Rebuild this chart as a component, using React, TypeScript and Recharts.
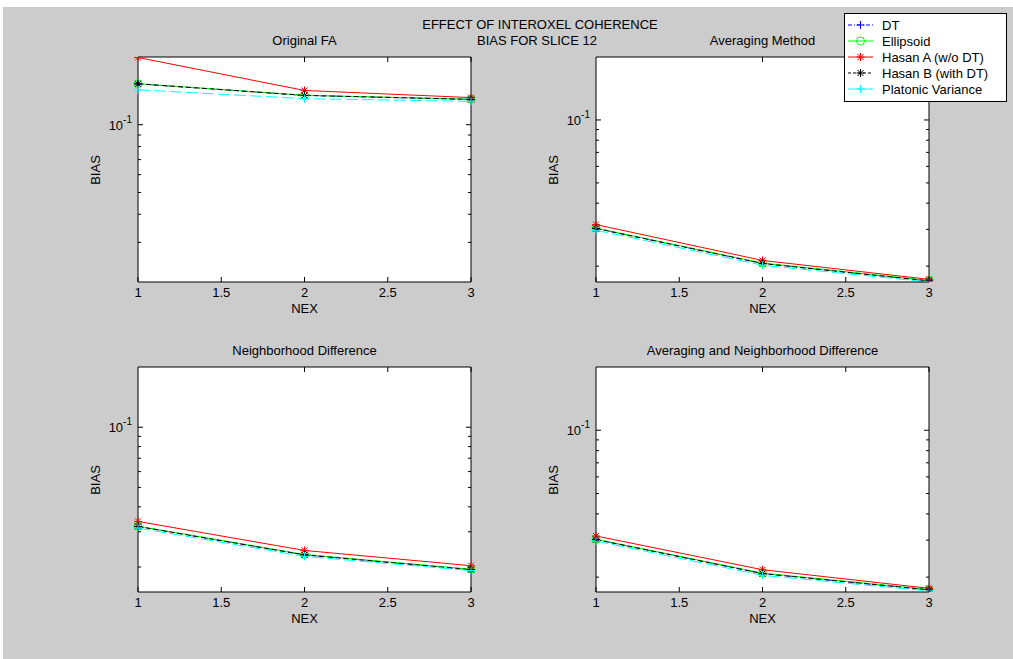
import React from 'react';
import { LineChart, Line, XAxis, YAxis, CartesianGrid } from 'recharts';

// NEX values on the x axis
const nex = [1, 2, 3];
const xTicks = [1, 1.5, 2, 2.5, 3];

// Original FA
const origDT = [0.152, 0.135, 0.1296];
const origEll = [0.1522, 0.1352, 0.1298];
const origHasanA = [0.199, 0.142, 0.132];
const origHasanB = [0.152, 0.135, 0.1296];
const origPlat = [0.143, 0.1306, 0.127];

// Averaging Method
const avgDT = [0.0303, 0.0206, 0.017];
const avgEll = [0.0304, 0.0207, 0.0171];
const avgHasanA = [0.0316, 0.0213, 0.0173];
const avgHasanB = [0.0303, 0.0206, 0.017];
const avgPlat = [0.0297, 0.0202, 0.0168];

// Neighborhood Difference
const nbDT = [0.0319, 0.023, 0.0194];
const nbEll = [0.032, 0.0231, 0.0195];
const nbHasanA = [0.0338, 0.0242, 0.0203];
const nbHasanB = [0.0319, 0.023, 0.0194];
const nbPlat = [0.0313, 0.0226, 0.0192];

// Averaging and Neighborhood Difference
const anDT = [0.0302, 0.0208, 0.0174];
const anEll = [0.0303, 0.0209, 0.0175];
const anHasanA = [0.0314, 0.0217, 0.0177];
const anHasanB = [0.0302, 0.0208, 0.0174];
const anPlat = [0.0297, 0.0204, 0.0172];

const legendNames = ['DT', 'Ellipsoid', 'Hasan A (w/o DT)', 'Hasan B (with DT)', 'Platonic Variance'];

const FONT = '"Liberation Sans", Arial, sans-serif';
const FS = 13;

const buildRows = (dt: number[], ell: number[], ha: number[], hb: number[], pl: number[]) =>
    nex.map((x, i) => ({ nex: x, dt: dt[i], ell: ell[i], ha: ha[i], hb: hb[i], pl: pl[i] }));

const plusDot = (color: string) => (p: any) => (
    <g key={`p${p.index}`}>
        <line x1={p.cx - 4} x2={p.cx + 4} y1={p.cy} y2={p.cy} stroke={color} />
        <line x1={p.cx} x2={p.cx} y1={p.cy - 4} y2={p.cy + 4} stroke={color} />
    </g>
);
const circleDot = (color: string) => (p: any) => (
    <circle key={`c${p.index}`} cx={p.cx} cy={p.cy} r={4} fill="none" stroke={color} />
);
const starDot = (color: string) => (p: any) => (
    <g key={`s${p.index}`}>
        <line x1={p.cx - 4} x2={p.cx + 4} y1={p.cy} y2={p.cy} stroke={color} />
        <line x1={p.cx} x2={p.cx} y1={p.cy - 4} y2={p.cy + 4} stroke={color} />
        <line x1={p.cx - 3} x2={p.cx + 3} y1={p.cy - 3} y2={p.cy + 3} stroke={color} />
        <line x1={p.cx - 3} x2={p.cx + 3} y1={p.cy + 3} y2={p.cy - 3} stroke={color} />
    </g>
);

const BottomTick = (p: any) => (
    <g>
        <line x1={p.x} x2={p.x} y1={p.y} y2={p.y - 5} stroke="#000" />
        <text x={p.x} y={p.y + 15} textAnchor="middle" fontSize={FS} fontFamily={FONT} fill="#000">
            {p.payload.value}
        </text>
    </g>
);
const TopTick = (p: any) => <line x1={p.x} x2={p.x} y1={p.y} y2={p.y + 5} stroke="#000" />;
const LeftTick = (p: any) => {
    const major = Math.abs(p.payload.value - 0.1) < 1e-9;
    return (
        <g>
            <line x1={p.x} x2={p.x + (major ? 5 : 3)} y1={p.y} y2={p.y} stroke="#000" />
            {major && (
                <text x={p.x - 6} y={p.y + 5} textAnchor="end" fontSize={FS} fontFamily={FONT} fill="#000">
                    10<tspan dy={-7} fontSize={10}>-1</tspan>
                </text>
            )}
        </g>
    );
};
const RightTick = (p: any) => {
    const major = Math.abs(p.payload.value - 0.1) < 1e-9;
    return <line x1={p.x} x2={p.x - (major ? 5 : 3)} y1={p.y} y2={p.y} stroke="#000" />;
};

type PanelProps = {
    title: string;
    left: number;
    top: number;
    rows: any[];
    yMin: number;
    yTicks: number[];
};

const Panel = ({ title, left, top, rows, yMin, yTicks }: PanelProps) => (
    <>
        <div style={{ position: 'absolute', left: left + 80, top: top - 19, width: 333, textAlign: 'center', fontSize: FS }}>
            {title}
        </div>
        <div style={{ position: 'absolute', left: left + 80, top: top + 249, width: 333, textAlign: 'center', fontSize: FS }}>
            NEX
        </div>
        <div
            style={{
                position: 'absolute',
                left: left + 38 - 20,
                top: top + 118 - 8,
                width: 40,
                height: 16,
                lineHeight: '16px',
                textAlign: 'center',
                fontSize: FS,
                transform: 'rotate(-90deg)',
            }}
        >
            BIAS
        </div>
        <div style={{ position: 'absolute', left, top }}>
            <LineChart width={420} height={270} data={rows} margin={{ top: 0, right: 0, bottom: 0, left: 0 }}>
                <CartesianGrid horizontal={false} vertical={false} fill="#fff" />
                <XAxis
                    dataKey="nex"
                    type="number"
                    domain={[1, 3]}
                    ticks={xTicks}
                    interval={0}
                    height={40}
                    tickSize={0}
                    tickMargin={0}
                    tick={BottomTick}
                    axisLine={{ stroke: '#000' }}
                />
                <XAxis
                    xAxisId="t"
                    orientation="top"
                    type="number"
                    domain={[1, 3]}
                    ticks={xTicks}
                    interval={0}
                    height={5}
                    tickSize={0}
                    tickMargin={0}
                    tick={TopTick}
                    axisLine={{ stroke: '#000' }}
                />
                <YAxis
                    type="number"
                    scale="log"
                    domain={[yMin, 0.2]}
                    allowDataOverflow
                    ticks={yTicks}
                    interval={0}
                    width={80}
                    tickSize={0}
                    tickMargin={0}
                    tick={LeftTick}
                    axisLine={{ stroke: '#000' }}
                />
                <YAxis
                    yAxisId="r"
                    orientation="right"
                    type="number"
                    scale="log"
                    domain={[yMin, 0.2]}
                    allowDataOverflow
                    ticks={yTicks}
                    interval={0}
                    width={7}
                    tickSize={0}
                    tickMargin={0}
                    tick={RightTick}
                    axisLine={{ stroke: '#000' }}
                />
                <Line dataKey="dt" stroke="#0000ff" strokeDasharray="6 3 1 3" dot={plusDot('#0000ff')} activeDot={false} isAnimationActive={false} />
                <Line dataKey="ell" stroke="#00ff00" dot={circleDot('#00ff00')} activeDot={false} isAnimationActive={false} />
                <Line dataKey="ha" stroke="#ff0000" dot={starDot('#ff0000')} activeDot={false} isAnimationActive={false} />
                <Line dataKey="hb" stroke="#000000" strokeDasharray="5 3" dot={starDot('#000000')} activeDot={false} isAnimationActive={false} />
                <Line dataKey="pl" stroke="#00ffff" strokeDasharray="12 4" dot={plusDot('#00ffff')} activeDot={false} isAnimationActive={false} />
            </LineChart>
        </div>
    </>
);

const legendStyles = [
    { color: '#0000ff', dash: '4 2 1 2', dot: plusDot('#0000ff') },
    { color: '#00ff00', dash: undefined, dot: circleDot('#00ff00') },
    { color: '#ff0000', dash: undefined, dot: starDot('#ff0000') },
    { color: '#000000', dash: '3 2', dot: starDot('#000000') },
    { color: '#00ffff', dash: undefined, dot: plusDot('#00ffff') },
];

const Legend = () => (
    <svg style={{ position: 'absolute', left: 844, top: 13 }} width={163} height={89}>
        <rect x={0.5} y={0.5} width={162} height={88} fill="#fff" stroke="#000" />
        {legendNames.map((name, i) => {
            const y = 12 + i * 16;
            const s = legendStyles[i];
            return (
                <g key={name}>
                    <line x1={4} x2={29} y1={y} y2={y} stroke={s.color} strokeDasharray={s.dash} />
                    {s.dot({ cx: 16.5, cy: y, index: i })}
                    <text x={38} y={y + 5} fontSize={FS} fontFamily={FONT} fill="#000">
                        {name}
                    </text>
                </g>
            );
        })}
    </svg>
);

const minorTop = [0.03, 0.04, 0.05, 0.06, 0.07, 0.08, 0.09, 0.1];
const minorAll = [0.02, 0.03, 0.04, 0.05, 0.06, 0.07, 0.08, 0.09, 0.1];

export default function App() {
    return (
        <div style={{ position: 'absolute', left: 0, top: 0, width: 1013, height: 659, background: '#fff', fontFamily: FONT, color: '#000' }}>
            <div style={{ position: 'absolute', left: 3, top: 7, width: 1010, height: 652, background: '#cccccc' }} />
            <div style={{ position: 'absolute', left: 340, top: 17, width: 400, textAlign: 'center', fontSize: FS }}>
                EFFECT OF INTEROXEL COHERENCE
            </div>
            <div style={{ position: 'absolute', left: 337, top: 33, width: 400, textAlign: 'center', fontSize: FS }}>
                BIAS FOR SLICE 12
            </div>
            <Panel title="Original FA" left={58} top={52} rows={buildRows(origDT, origEll, origHasanA, origHasanB, origPlat)} yMin={0.02} yTicks={minorTop} />
            <Panel title="Averaging Method" left={516} top={52} rows={buildRows(avgDT, avgEll, avgHasanA, avgHasanB, avgPlat)} yMin={0.0168} yTicks={minorAll} />
            <Panel title="Neighborhood Difference" left={58} top={362} rows={buildRows(nbDT, nbEll, nbHasanA, nbHasanB, nbPlat)} yMin={0.015} yTicks={minorAll} />
            <Panel title="Averaging and Neighborhood Difference" left={516} top={362} rows={buildRows(anDT, anEll, anHasanA, anHasanB, anPlat)} yMin={0.017} yTicks={minorAll} />
            <Legend />
        </div>
    );
}
